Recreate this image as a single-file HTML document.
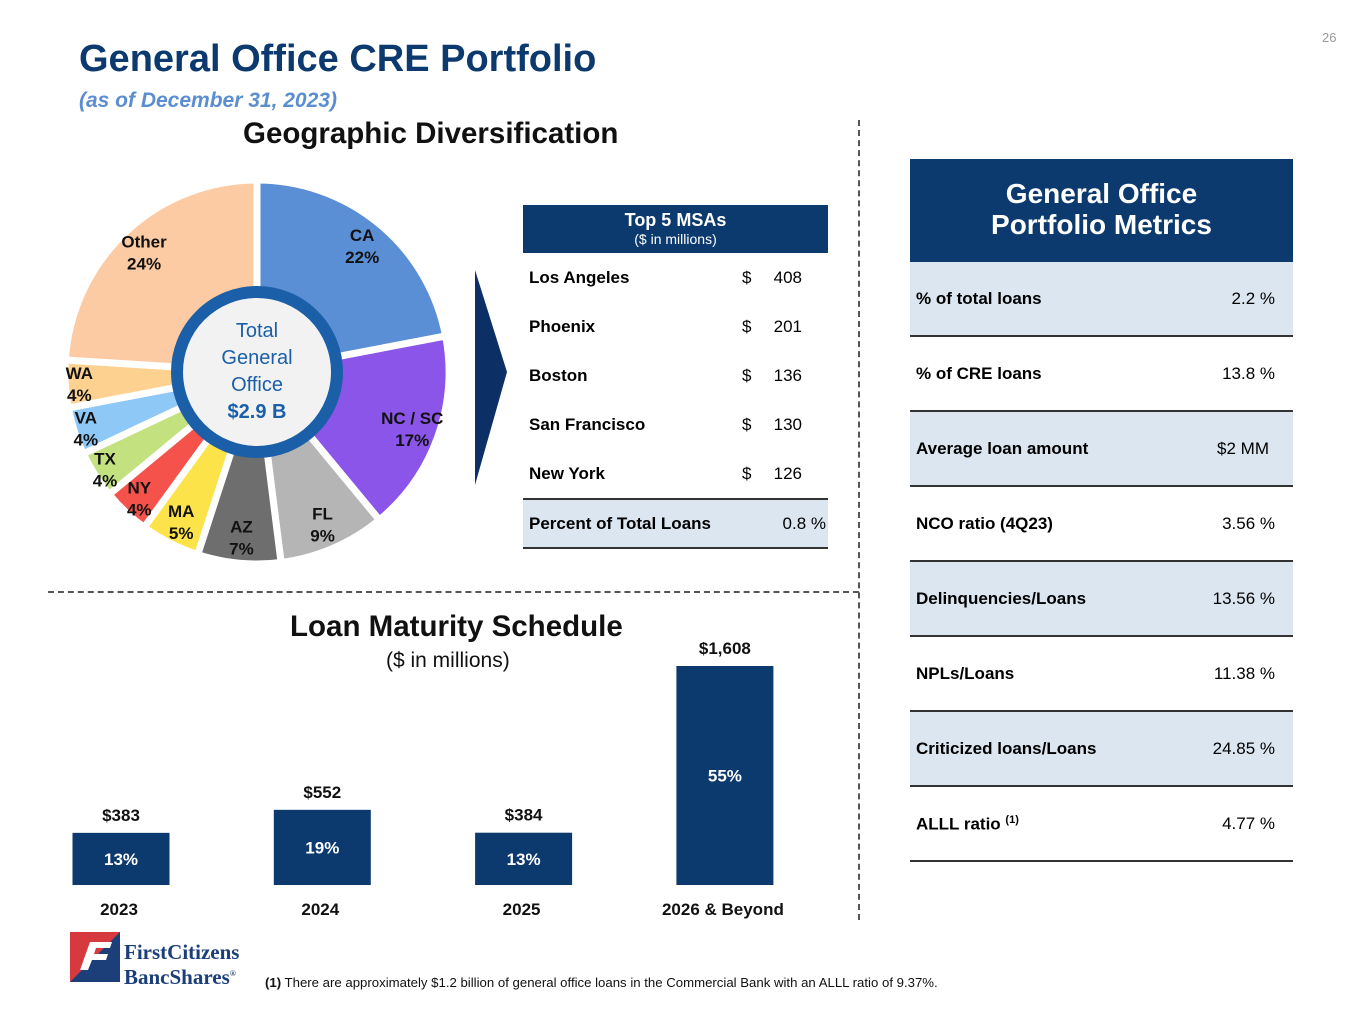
<!DOCTYPE html>
<html><head><meta charset="utf-8"><style>
body{margin:0;width:1365px;height:1024px;background:#fff;font-family:"Liberation Sans",Arial,sans-serif;position:relative;overflow:hidden}
.a{position:absolute}
.b{font-weight:bold}
</style></head><body>
<div class="a" style="left:1322px;top:30px;font-size:13px;color:#999">26</div>
<div class="a b" style="left:79px;top:38px;font-size:38px;color:#0c3a6e">General Office CRE Portfolio</div>
<div class="a b" style="left:79px;top:89px;font-size:21px;color:#5b8ed0;font-style:italic">(as of December 31, 2023)</div>
<div class="a b" style="left:243px;top:117px;font-size:29.5px;color:#111">Geographic Diversification</div>
<div class="a" style="left:858px;top:120px;height:800px;border-left:2px dashed #555"></div>
<div class="a" style="left:48px;top:591px;width:811px;border-top:2px dashed #555"></div>

<svg class="a" style="left:0;top:0" width="520" height="600">
<g id="pie"></g>
<circle cx="257" cy="372" r="80" fill="#f2f2f2" stroke="#1a5fa8" stroke-width="12"/>
<text x="257" y="337" text-anchor="middle" font-size="20" fill="#1a5fa8">Total</text>
<text x="257" y="364" text-anchor="middle" font-size="20" fill="#1a5fa8">General</text>
<text x="257" y="391" text-anchor="middle" font-size="20" fill="#1a5fa8">Office</text>
<text x="257" y="418" text-anchor="middle" font-size="20" font-weight="bold" fill="#1a5fa8">$2.9 B</text>
</svg>

<svg class="a" style="left:470px;top:265px" width="45" height="225"><polygon points="5,5 37,107 5,220" fill="#0c2f66"/></svg>

<div class="a" style="left:523px;top:205px;width:305px">
<div style="background:#0c3a6e;color:#fff;text-align:center;height:48px"><div class="b" style="font-size:18px;padding-top:5px">Top 5 MSAs</div><div style="font-size:14px">($ in millions)</div></div>
<div id="msarows"></div>
<div style="border-top:2px solid #333;border-bottom:2px solid #333;background:#dce6f0;height:47px;position:relative;font-size:17px"><span class="a b" style="left:6px;top:14px">Percent of Total Loans</span><span class="a" style="right:2px;top:14px">0.8 %</span></div>
</div>

<div class="a" style="left:910px;top:159px;width:383px">
<div class="b" style="background:#0c3a6e;color:#fff;text-align:center;height:103px;font-size:28px;line-height:31px;box-sizing:border-box;padding-top:19px">General Office<br>Portfolio Metrics</div>
<div id="metrows"></div>
</div>

<div class="a b" style="left:290px;top:610px;font-size:29.5px;color:#111">Loan Maturity Schedule</div>
<div class="a" style="left:386px;top:649px;font-size:21px;color:#111">($ in millions)</div>
<svg class="a" style="left:0;top:620px" width="860" height="310" id="bars"></svg>

<svg class="a" style="left:68px;top:930px" width="54" height="54"><rect x="2" y="2" width="50" height="50" fill="#1c3f7a"/><polygon points="2,2 52,2 2,52" fill="#d63a3e"/><path d="M12 40 L22 12 L44 12 L42 18 L28 18 L26 24 L40 24 L38 30 L24 30 L20 40 Z" fill="#fff"/></svg>
<div class="a" style="left:124px;top:942px;font-family:'Liberation Serif',serif;font-weight:bold;font-size:21px;line-height:21px;color:#1c3f7a">FirstCitizens<br>BancShares<sup style="font-size:8px">®</sup></div>
<div class="a" style="left:265px;top:975px;font-size:13.2px;color:#111"><b>(1)</b> There are approximately $1.2 billion of general office loans in the Commercial Bank with an ALLL ratio of 9.37%.</div>

<script>
const states=["CA","NC / SC","FL","AZ","MA","NY","TX","VA","WA","Other"];
const shares=[22,17,9,7,5,4,4,4,4,24];
const colors=["#5a8fd6","#8a55e8","#b5b5b5","#6e6e6e","#fde34a","#f4524a","#c3e27f","#8ec8f7","#fdd291","#fdcba3"];
const msaNames=["Los Angeles","Phoenix","Boston","San Francisco","New York"];
const msaValues=[408,201,136,130,126];
const metricNames=["% of total loans","% of CRE loans","Average loan amount","NCO ratio (4Q23)","Delinquencies/Loans","NPLs/Loans","Criticized loans/Loans","ALLL ratio"];
const metricValues=["2.2 %","13.8 %","$2 MM","3.56 %","13.56 %","11.38 %","24.85 %","4.77 %"];
const years=["2023","2024","2025","2026 & Beyond"];
const amounts=[383,552,384,1608];
const pcts=[13,19,13,55];

const NS="http://www.w3.org/2000/svg";
function mk(t,a,p){const e=document.createElementNS(NS,t);for(const k in a)e.setAttribute(k,a[k]);p.appendChild(e);return e;}
const pie=document.getElementById('pie');const cx=257,cy=372,R=192;
const tot=shares.reduce((a,b)=>a+b,0);let ang=0;
const labR=[165,165,165,165,167,172,180,180,178,165];
shares.forEach((v,i)=>{
 const a0=ang/tot*2*Math.PI,a1=(ang+v)/tot*2*Math.PI;ang+=v;
 const pt=(a,r)=>[cx+r*Math.sin(a),cy-r*Math.cos(a)];
 const p0=pt(a0,R),p1=pt(a1,R);
 const s=mk('path',{d:`M${cx},${cy}L${p0[0]},${p0[1]}A${R},${R} 0 ${a1-a0>Math.PI?1:0} 1 ${p1[0]},${p1[1]}Z`,fill:colors[i],stroke:'#fff','stroke-width':7},pie);
 
 
 const am=(a0+a1)/2,lp=pt(am,labR[i]);
 const t=mk('text',{x:lp[0],y:lp[1]-4,'text-anchor':'middle','font-size':17,'font-weight':'bold',fill:'#111'},pie);
 
 
 t.textContent=states[i];
 const t2=mk('text',{x:lp[0],y:lp[1]+18,'text-anchor':'middle','font-size':17,'font-weight':'bold',fill:'#111'},pie);
 
 
 t2.textContent=v+'%';
});
const mr=document.getElementById('msarows');
msaNames.forEach((n,i)=>{const d=document.createElement('div');
 
 
 d.style.cssText='position:relative;height:49px;font-size:17px';
 d.innerHTML=`<span class="a b" style="left:6px;top:15px">${n}</span><span class="a" style="left:219px;top:15px">$</span><span class="a" style="right:26px;top:15px">${msaValues[i]}</span>`;mr.appendChild(d);});
const mt=document.getElementById('metrows');
metricNames.forEach((n,i)=>{const d=document.createElement('div');
 
 
 d.style.cssText='position:relative;height:73px;border-bottom:2px solid #333;font-size:17px;background:'+(i%2==0?'#dce6f0':'#fff');
 const sup=n==='ALLL ratio'?' <sup style="font-size:11px">(1)</sup>':'';
 d.innerHTML=`<span class="a b" style="left:6px;top:27px">${n}${sup}</span><span class="a" style="right:${metricValues[i].includes('%')?18:24}px;top:27px">${metricValues[i]}</span>`;mt.appendChild(d);});
const bs=document.getElementById('bars');const base=265,maxH=219,maxV=1608;
const y=v=>base-v/maxV*maxH;const xc=i=>121+i*201.3;
amounts.forEach((v,i)=>{
 const r=mk('rect',{x:xc(i)-48.5,y:y(v),width:97,height:base-y(v),fill:'#0c3a6e'},bs);
 
 
 const t=mk('text',{x:xc(i),y:y(v)-12,'text-anchor':'middle','font-size':17,'font-weight':'bold',fill:'#111'},bs);
 
 
 t.textContent='$'+v.toLocaleString('en-US');
 const p=mk('text',{x:xc(i),y:(y(v)+base)/2+6,'text-anchor':'middle','font-size':17,'font-weight':'bold',fill:'#fff'},bs);
 
 
 p.textContent=pcts[i]+'%';
 const c=mk('text',{x:xc(i)-2,y:base+30,'text-anchor':'middle','font-size':17,'font-weight':'bold',fill:'#111'},bs);
 
 
 c.textContent=years[i];
});
</script>
</body></html>
